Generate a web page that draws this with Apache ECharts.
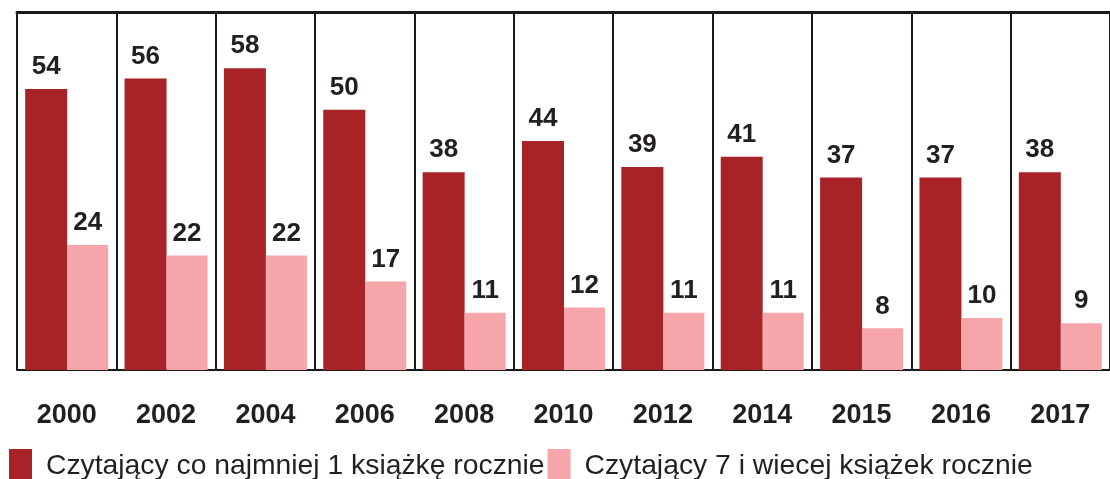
<!DOCTYPE html>
<html>
<head>
<meta charset="utf-8">
<script src="https://cdn.jsdelivr.net/npm/echarts@6/dist/echarts.min.js"></script>
<style>
  html, body { margin: 0; padding: 0; background: #fff; }
  #chart { width: 1110px; height: 479px; }
</style>
</head>
<body>
<div id="chart"></div>
<script>
// dane z wykresu
var years = ["2000", "2002", "2004", "2006", "2008", "2010", "2012", "2014", "2015", "2016", "2017"];
var atLeastOne = [54, 56, 58, 50, 38, 44, 39, 41, 37, 37, 38];
var sevenOrMore = [24, 22, 22, 17, 11, 12, 11, 11, 8, 10, 9];
var seriesNames = ["Czytający co najmniej 1 książkę rocznie", "Czytający 7 i wiecej książek rocznie"];

var font = "'Liberation Sans', Arial, sans-serif";
var textColor = "#231f20";

var labelStyle = {
  show: true,
  position: "top",
  distance: 9,
  color: textColor,
  fontFamily: font,
  fontWeight: "bold",
  fontSize: 26,
};

var myChart = echarts.init(document.getElementById("chart"));
var option = {
  backgroundColor: "#fff",
  animation: false,
  grid: {
    left: 17,
    right: -4,
    top: 12,
    bottom: 109,
  },
  legend: {
    left: 4,
    top: 444,
    itemWidth: 23,
    itemHeight: 34,
    itemGap: 3,
    icon: "rect",
    textStyle: {
      fontFamily: font,
      fontSize: 28.3,
      color: textColor,
      padding: [0, 0, 0, 9],
    },
    data: seriesNames,
  },
  xAxis: [
    {
      type: "category",
      data: years,
      axisLine: { show: true, onZero: false, lineStyle: { color: "#1a1a1a", width: 2 } },
      // ticks na granicach kategorii jako pionowe linie ramek
      axisTick: {
        show: true,
        inside: true,
        interval: 0,
        length: 358,
        lineStyle: { color: "#1a1a1a", width: 2 },
      },
      axisLabel: {
        interval: 0,
        margin: 32,
        color: textColor,
        fontFamily: font,
        fontWeight: "bold",
        fontSize: 27,
      },
    },
    {
      type: "category",
      data: years,
      position: "top",
      axisLine: { show: true, onZero: false, lineStyle: { color: "#1a1a1a", width: 3 } },
      axisTick: { show: false },
      axisLabel: { show: false },
    },
  ],
  yAxis: {
    type: "value",
    min: 0,
    max: 68.8,
    show: false,
  },
  series: [
    {
      name: seriesNames[0],
      type: "bar",
      data: atLeastOne,
      barWidth: 42,
      barGap: "0%",
      itemStyle: { color: "#a82328" },
      label: labelStyle,
    },
    {
      name: seriesNames[1],
      type: "bar",
      data: sevenOrMore,
      barWidth: 41,
      barGap: "0%",
      itemStyle: { color: "#f6a6aa" },
      label: labelStyle,
    },
  ],
};
myChart.setOption(option);
window.onresize = function () {
  myChart.resize();
};
</script>
</body>
</html>
